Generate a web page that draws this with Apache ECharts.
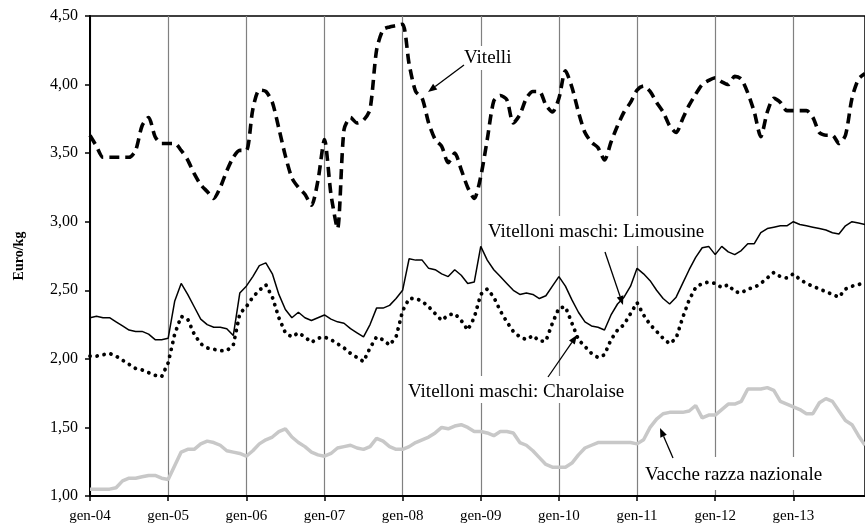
<!DOCTYPE html>
<html>
<head>
<meta charset="utf-8">
<script src="https://cdn.jsdelivr.net/npm/echarts@6/dist/echarts.min.js"></script>
<style>
  html, body { margin: 0; padding: 0; background: #fff; }
  #chart { width: 865px; height: 524px; }
</style>
</head>
<body>
<div id="chart"></div>
<script>
// mesi e anni per l'asse x (dati mensili gen-04 ... dic-13)
const months = ['gen', 'feb', 'mar', 'apr', 'mag', 'giu', 'lug', 'ago', 'set', 'ott', 'nov', 'dic']
const years = ['04', '05', '06', '07', '08', '09', '10', '11', '12', '13']
const categories = years.flatMap(y => months.map(m => m + '-' + y))

// Euro/kg
const vitelli = [
  3.63, 3.55, 3.47, 3.47, 3.47, 3.47, 3.47, 3.52, 3.70, 3.76, 3.62, 3.57,
  3.57, 3.57, 3.52, 3.45, 3.35, 3.27, 3.22, 3.17, 3.25, 3.37, 3.47, 3.52,
  3.52, 3.82, 3.96, 3.95, 3.87, 3.68, 3.48, 3.32, 3.25, 3.20, 3.12, 3.30,
  3.60, 3.20, 2.95, 3.67, 3.76, 3.72, 3.74, 3.82, 4.25, 4.40, 4.42, 4.43,
  4.44, 4.15, 3.95, 3.90, 3.72, 3.60, 3.55, 3.43, 3.50, 3.38, 3.25, 3.17,
  3.33, 3.60, 3.88, 3.92, 3.89, 3.72, 3.78, 3.90, 3.95, 3.95, 3.85, 3.80,
  3.90, 4.10, 3.98, 3.80, 3.65, 3.58, 3.54, 3.45, 3.58, 3.70, 3.80, 3.87,
  3.96, 3.99, 3.95, 3.87, 3.80, 3.70, 3.65, 3.75, 3.85, 3.93, 4.00, 4.03,
  4.05, 4.02, 4.00, 4.06, 4.04, 3.94, 3.80, 3.62, 3.80, 3.90, 3.87, 3.81,
  3.81, 3.81, 3.81, 3.76, 3.65, 3.63, 3.63, 3.57, 3.63, 3.90, 4.04, 4.08,
]
const limousine = [
  2.30, 2.31, 2.30, 2.30, 2.27, 2.24, 2.21, 2.20, 2.20, 2.18, 2.14, 2.14,
  2.15, 2.42, 2.55, 2.47, 2.38, 2.29, 2.25, 2.23, 2.23, 2.22, 2.17, 2.48,
  2.53, 2.60, 2.68, 2.70, 2.62, 2.47, 2.36, 2.30, 2.34, 2.30, 2.28, 2.30,
  2.32, 2.29, 2.27, 2.26, 2.22, 2.19, 2.16, 2.25, 2.37, 2.37, 2.39, 2.44,
  2.50, 2.73, 2.72, 2.72, 2.66, 2.65, 2.62, 2.60, 2.65, 2.61, 2.55, 2.56,
  2.82, 2.72, 2.65, 2.60, 2.55, 2.50, 2.47, 2.48, 2.47, 2.44, 2.46, 2.53,
  2.60, 2.53, 2.43, 2.34, 2.27, 2.24, 2.23, 2.21, 2.32, 2.40, 2.45, 2.53,
  2.66, 2.62, 2.57, 2.50, 2.44, 2.40, 2.45, 2.55, 2.65, 2.74, 2.81, 2.82,
  2.76, 2.82, 2.78, 2.76, 2.79, 2.84, 2.84, 2.92, 2.95, 2.96, 2.97, 2.97,
  3.00, 2.98, 2.97, 2.96, 2.95, 2.94, 2.92, 2.91, 2.97, 3.00, 2.99, 2.98,
]
const charolaise = [
  2.02, 2.02, 2.03, 2.04, 2.02, 1.99, 1.96, 1.93, 1.92, 1.90, 1.88, 1.87,
  1.97, 2.18, 2.31, 2.29, 2.18, 2.11, 2.08, 2.07, 2.06, 2.06, 2.10, 2.33,
  2.38, 2.45, 2.50, 2.54, 2.45, 2.30, 2.19, 2.16, 2.19, 2.16, 2.12, 2.15,
  2.16, 2.14, 2.11, 2.08, 2.04, 2.01, 1.98, 2.08, 2.16, 2.14, 2.10, 2.16,
  2.35, 2.44, 2.44, 2.42, 2.38, 2.33, 2.28, 2.32, 2.33, 2.28, 2.21, 2.30,
  2.47, 2.51, 2.45, 2.35, 2.27, 2.20, 2.16, 2.14, 2.17, 2.13, 2.13, 2.26,
  2.37, 2.38, 2.26, 2.14, 2.09, 2.04, 2.01, 2.03, 2.14, 2.21, 2.25, 2.33,
  2.41, 2.32, 2.25, 2.20, 2.15, 2.11, 2.15, 2.30, 2.43, 2.52, 2.55, 2.56,
  2.55, 2.52, 2.54, 2.49, 2.48, 2.51, 2.52, 2.55, 2.59, 2.63, 2.60, 2.59,
  2.62, 2.58, 2.55, 2.53, 2.51, 2.49, 2.47, 2.45, 2.51, 2.53, 2.54, 2.56,
]
const vacche = [
  1.05, 1.05, 1.05, 1.05, 1.06, 1.11, 1.13, 1.13, 1.14, 1.15, 1.15, 1.13,
  1.12, 1.22, 1.32, 1.34, 1.34, 1.38, 1.40, 1.39, 1.37, 1.33, 1.32, 1.31,
  1.29, 1.33, 1.38, 1.41, 1.43, 1.47, 1.49, 1.43, 1.39, 1.36, 1.32, 1.30,
  1.29, 1.31, 1.35, 1.36, 1.37, 1.35, 1.34, 1.36, 1.42, 1.40, 1.36, 1.34,
  1.34, 1.36, 1.39, 1.41, 1.43, 1.46, 1.50, 1.49, 1.51, 1.52, 1.50, 1.47,
  1.47, 1.46, 1.44, 1.47, 1.47, 1.46, 1.39, 1.37, 1.33, 1.28, 1.23, 1.21,
  1.21, 1.21, 1.24, 1.30, 1.35, 1.37, 1.39, 1.39, 1.39, 1.39, 1.39, 1.39,
  1.38, 1.41, 1.50, 1.56, 1.60, 1.61, 1.61, 1.61, 1.62, 1.66, 1.57, 1.59,
  1.59, 1.63, 1.67, 1.67, 1.69, 1.78, 1.78, 1.78, 1.79, 1.77, 1.69, 1.67,
  1.65, 1.63, 1.60, 1.60, 1.68, 1.71, 1.69, 1.62, 1.55, 1.52, 1.44, 1.37,
]

const FONT = '"Liberation Serif", "Times New Roman", serif'

// freccia: linea + punta triangolare
function arrow(x1, y1, x2, y2) {
  const a = Math.atan2(y2 - y1, x2 - x1)
  const L = 9, W = 3.5
  const bx = x2 - L * Math.cos(a), by = y2 - L * Math.sin(a)
  return [
    { type: 'line', z: 10, shape: { x1, y1, x2: bx, y2: by }, style: { stroke: '#000', lineWidth: 1.3 } },
    {
      type: 'polygon', z: 10,
      shape: { points: [[x2, y2], [bx + W * Math.sin(a), by - W * Math.cos(a)], [bx - W * Math.sin(a), by + W * Math.cos(a)]] },
      style: { fill: '#000' },
    },
  ]
}

// etichetta con fondo bianco che copre la griglia
function label(text, x, y, box) {
  return [
    { type: 'rect', z: 1, shape: box, style: { fill: '#fff' } },
    { type: 'text', z: 10, x, y, style: { text, font: '19px ' + FONT, fill: '#000', verticalAlign: 'middle' } },
  ]
}

const chart = echarts.init(document.getElementById('chart'))

chart.setOption({
  animation: false,
  backgroundColor: '#fff',
  grid: {
    left: 90,
    right: -2,
    top: 16,
    bottom: 28,
    show: true,
    borderColor: '#000',
    borderWidth: 1.5,
  },
  xAxis: {
    type: 'category',
    data: categories,
    boundaryGap: false,
    axisLine: { lineStyle: { color: '#000', width: 2 } },
    axisTick: { interval: 11, length: 5, lineStyle: { color: '#000', width: 1.5 } },
    axisLabel: { interval: 11, margin: 13, color: '#000', fontFamily: FONT, fontSize: 15 },
    splitLine: { show: true, interval: 11, lineStyle: { color: '#808080', width: 1.2 } },
  },
  yAxis: {
    type: 'value',
    min: 1,
    max: 4.5,
    interval: 0.5,
    name: 'Euro/kg',
    nameLocation: 'middle',
    nameGap: 64,
    nameTextStyle: { fontFamily: FONT, fontSize: 14, fontWeight: 'bold', color: '#000' },
    axisLine: { show: true, lineStyle: { color: '#000', width: 2 } },
    axisTick: { show: true, length: 5, lineStyle: { color: '#000', width: 1.5 } },
    axisLabel: {
      margin: 12,
      color: '#000',
      fontFamily: FONT,
      fontSize: 16,
      formatter: v => v.toFixed(2).replace('.', ','),
    },
    splitLine: { show: false },
  },
  series: [
    {
      name: 'Vacche razza nazionale',
      type: 'line',
      data: vacche,
      showSymbol: false,
      lineStyle: { color: '#c8c8c8', width: 3.5 },
    },
    {
      name: 'Vitelloni maschi: Charolaise',
      type: 'line',
      data: charolaise,
      showSymbol: false,
      lineStyle: { color: '#000', width: 3.8, type: [0.1, 7], cap: 'round' },
    },
    {
      name: 'Vitelloni maschi: Limousine',
      type: 'line',
      data: limousine,
      showSymbol: false,
      lineStyle: { color: '#000', width: 1.5 },
    },
    {
      name: 'Vitelli',
      type: 'line',
      data: vitelli,
      showSymbol: false,
      smooth: 0.25,
      lineStyle: { color: '#000', width: 3.6, type: [10, 6] },
    },
  ],
  graphic: {
    elements: [
      ...label('Vitelli', 464, 58, { x: 461, y: 46, width: 53, height: 24 }),
      ...arrow(464, 65, 428, 92),
      ...label('Vitelloni maschi: Limousine', 488, 232, { x: 484, y: 216, width: 226, height: 30 }),
      ...arrow(605, 252, 623, 305),
      ...label('Vitelloni maschi: Charolaise', 408, 392, { x: 404, y: 376, width: 226, height: 27 }),
      ...arrow(548, 377, 577, 335),
      ...label('Vacche razza nazionale', 645, 475, { x: 641, y: 457, width: 186, height: 33 }),
      ...arrow(673, 458, 660, 428),
    ],
  },
})
</script>
</body>
</html>
